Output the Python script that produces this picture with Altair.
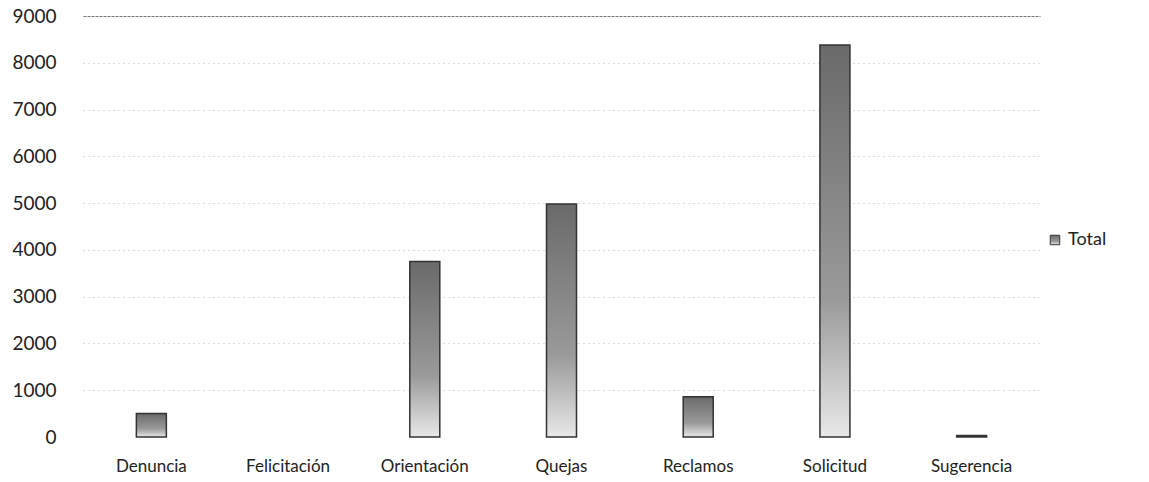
import altair as alt
import pandas as pd

categories = ["Denuncia", "Felicitación", "Orientación", "Quejas", "Reclamos", "Solicitud", "Sugerencia"]
values = [500, 0, 3750, 4980, 860, 8380, 30]
series = ["Total"] * len(categories)

df = pd.DataFrame({"categoria": categories, "valor": values, "serie": series})

FONT = "Lato"

bars = alt.Chart(df).transform_filter("datum.valor > 0").mark_bar(
    size=30,
    fill=alt.Gradient(
        gradient="linear",
        x1=0, x2=0, y1=0, y2=1,
        stops=[
            alt.GradientStop(color="#6a6a6a", offset=0),
            alt.GradientStop(color="#9a9a9a", offset=0.65),
            alt.GradientStop(color="#e8e8e8", offset=1),
        ],
    ),
    strokeWidth=1.5,
).encode(
    x=alt.X("categoria:N", sort=categories, title=None,
            scale=alt.Scale(domain=categories),
            axis=alt.Axis(labelAngle=0, labelPadding=21, domain=False, ticks=False,
                          labelFontSize=17, labelFont=FONT, labelColor="#222")),
    y=alt.Y("valor:Q", title=None,
            scale=alt.Scale(domain=[0, 9000]),
            axis=alt.Axis(values=list(range(0, 9001, 1000)), format="d", domain=False, ticks=False,
                          labelPadding=27, labelFontSize=19, labelFont=FONT, labelColor="#222",
                          gridColor={"condition": {"test": "datum.value === 9000", "value": "#777777"}, "value": "#b5b5b5"},
                          gridDash={"condition": {"test": "datum.value === 9000", "value": [3, 1]}, "value": [1, 4]},
                          gridOpacity={"condition": {"test": "datum.value === 0", "value": 0}, "value": 1})),
    stroke=alt.Stroke("serie:N", title=None,
                      scale=alt.Scale(range=["#333333"]),
                      legend=alt.Legend(orient="none", legendX=963, legendY=215,
                                        symbolType="square", symbolSize=90,
                                        symbolFillColor="#888888", symbolStrokeWidth=1,
                                        labelFontSize=18, labelFont=FONT, labelColor="#222")),
)

chart = bars.properties(
    width=957, height=421,
    autosize=alt.AutoSizeParams(type="none"),
    padding={"left": 83, "top": 16, "right": 109, "bottom": 45},
    background="white",
).configure_view(stroke=None)

chart.save("out.html", embed_options={"renderer": "svg", "actions": False})
